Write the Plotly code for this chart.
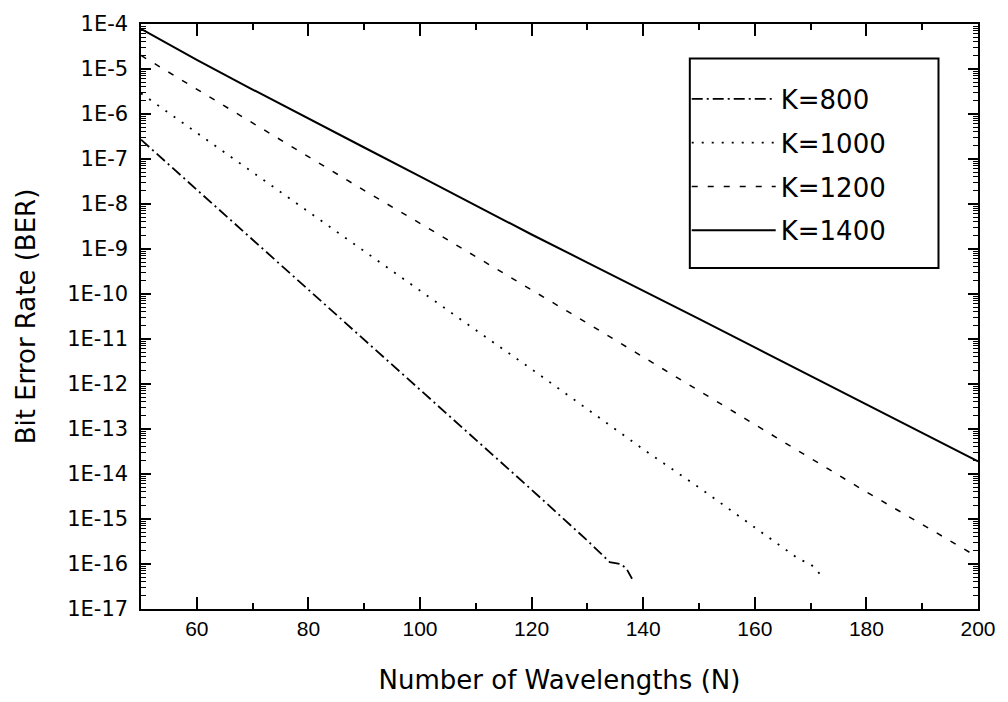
import plotly.graph_objects as go

# ---- data (BER vs number of wavelengths N, M = 100) ----
n_800 = [50, 60, 70, 80, 90, 100, 110, 120, 130, 134, 136, 137, 138]
ber_800 = [2.69e-7, 2.09e-8, 1.58e-9, 1.26e-10, 1.0e-11, 7.59e-13, 6.03e-14, 4.47e-15,
           3.31e-16, 1.10e-16, 1.0e-16, 7.9e-17, 4.7e-17]

n_1000 = [50, 60, 70, 80, 90, 100, 110, 120, 130, 140, 150, 160, 166, 168, 170, 172]
ber_1000 = [2.88e-6, 3.80e-7, 5.01e-8, 6.76e-9, 8.91e-10, 1.20e-10, 1.58e-11, 2.14e-12,
            2.82e-13, 3.55e-14, 5.01e-15, 6.31e-16, 1.86e-16, 1.26e-16, 1.0e-16, 5.4e-17]

n_1200 = [50, 60, 70, 80, 90, 100, 110, 120, 130, 140, 150, 160, 170, 180, 190, 200]
ber_1200 = [2.0e-5, 3.55e-6, 6.31e-7, 1.12e-7, 2.0e-8, 3.72e-9, 6.76e-10, 1.26e-10,
            2.24e-11, 3.98e-12, 7.08e-13, 1.26e-13, 2.24e-14, 3.98e-15, 7.59e-16, 1.41e-16]

n_1400 = [50, 60, 70, 80, 90, 100, 110, 120, 130, 140, 150, 160, 170, 180, 190, 200]
ber_1400 = [7.8e-5, 1.6e-5, 3.5e-6, 7.8e-7, 1.8e-7, 4.1e-8, 9.3e-9, 2.1e-9,
            5.0e-10, 1.2e-10, 2.8e-11, 6.5e-12, 1.5e-12, 3.5e-13, 8.3e-14, 1.9e-14]

series_names = ["K=800", "K=1000", "K=1200", "K=1400"]
y_tick_text = ["1E-4", "1E-5", "1E-6", "1E-7", "1E-8", "1E-9", "1E-10", "1E-11",
               "1E-12", "1E-13", "1E-14", "1E-15", "1E-16", "1E-17"]
y_tick_vals = [1e-4, 1e-5, 1e-6, 1e-7, 1e-8, 1e-9, 1e-10, 1e-11, 1e-12,
               1e-13, 1e-14, 1e-15, 1e-16, 1e-17]

styles = [
    dict(dash="11px,4px,2px,4px", width=1.8),
    dict(dash="2px,8px", width=1.8),
    dict(dash="6px,10px", width=1.5),
    dict(dash="solid", width=2.0),
]

fig = go.Figure()
for i, (xs, ys) in enumerate([(n_800, ber_800), (n_1000, ber_1000),
                              (n_1200, ber_1200), (n_1400, ber_1400)]):
    fig.add_trace(go.Scatter(
        x=xs, y=ys, mode="lines", name=series_names[i],
        legendgroup=series_names[i],
        line=dict(color="black", **styles[i]),
    ))

fig.update_layout(
    width=1008, height=702, template="simple_white",
    margin=dict(l=141, r=19, t=20, b=90),
    showlegend=True,
    legend=dict(
        x=0.652, y=0.912, xanchor="left", yanchor="top",
        bgcolor="rgba(0,0,0,0)", borderwidth=0,
        itemwidth=84, tracegroupgap=7,
        font=dict(family="DejaVu Sans, sans-serif", size=26, color="black"),
    ),
    xaxis=dict(range=[50, 200], showline=True, linecolor="black", linewidth=2,
               mirror="allticks", ticks="inside", ticklen=12, tickwidth=2,
               tickcolor="black", dtick=20, tick0=60,
               tickfont=dict(family="Liberation Sans, Arial, sans-serif", size=21, color="black"),
               minor=dict(ticks="inside", ticklen=6, dtick=10, tickcolor="black", tickwidth=1.5),
               title=dict(text="Number of Wavelengths (N)", standoff=32,
                          font=dict(family="DejaVu Sans, sans-serif", size=26, color="black"))),
    yaxis=dict(type="log", range=[-17, -4], showline=True, linecolor="black", linewidth=2,
               mirror="allticks", ticks="inside", ticklen=10, tickwidth=2, tickcolor="black",
               tickvals=y_tick_vals, ticktext=[t + "\u00a0" for t in y_tick_text],
               tickfont=dict(family="DejaVu Sans, sans-serif", size=21, color="black"),
               minor=dict(ticks="inside", ticklen=5, dtick="D1", tickcolor="black", tickwidth=1.2),
               title=dict(text="Bit Error Rate (BER)", standoff=24,
                          font=dict(family="DejaVu Sans, sans-serif", size=26, color="black"))),
    shapes=[dict(type="rect", xref="paper", yref="paper", opacity=1,
                 x0=0.6557, x1=0.9528, y0=0.5828, y1=0.9409,
                 line=dict(color="black", width=2), fillcolor="rgba(0,0,0,0)")],
    annotations=[dict(text="M = 100", xref="x", yref="y", x=67.5, y=1e-15,
                      showarrow=False, xanchor="center", yanchor="middle",
                      font=dict(family="Liberation Serif, Times New Roman, serif",
                                size=29, color="black"))],
)

fig.write_html("out.html")
